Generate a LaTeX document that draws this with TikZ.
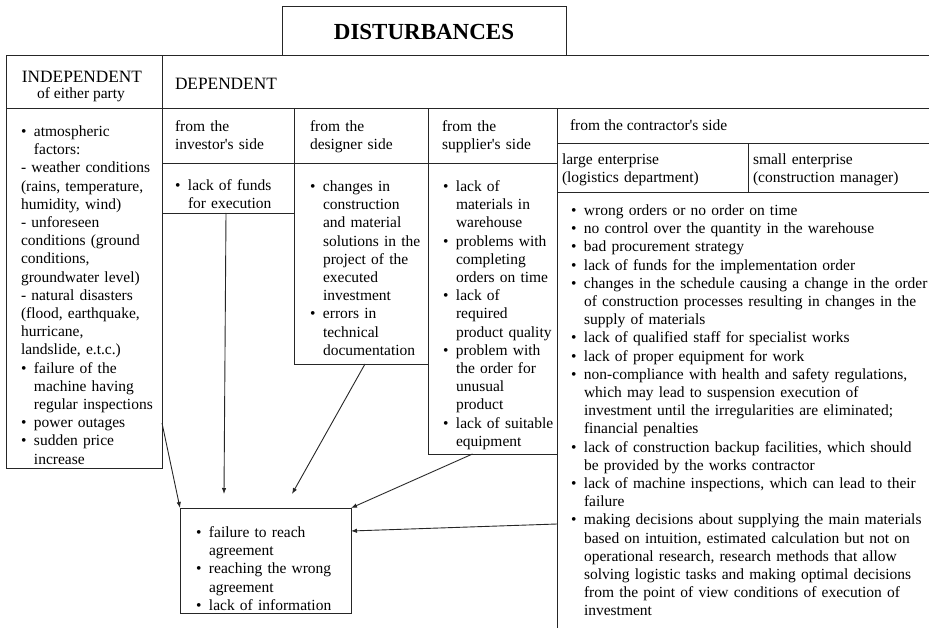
\documentclass[tikz,border=0pt]{standalone}
\usepackage{fontspec}
\setmainfont{Liberation Serif}
\usetikzlibrary{arrows.meta,calc}
\newcommand\bitem{\par\noindent\hangindent=13pt\hangafter=1\strut\makebox[13pt][l]{\textbullet}\ignorespaces}
\newcommand\pline{\par\noindent\strut\ignorespaces}
\newcommand\nl{\newline}
\newcommand\ap{\textquotesingle}
\begin{document}
\begin{tikzpicture}[x=1pt,y=-1pt,
  cell/.style={draw=black!85, line width=0.9pt, inner sep=0pt, outer sep=0pt, anchor=north west},
  body/.style={anchor=north west, inner sep=0pt, outer sep=0pt, align=left, font=\fontsize{15.5}{18.2}\selectfont},
  bfont/.style={inner sep=0pt, outer sep=0pt, font=\fontsize{15.5}{18.2}\selectfont},
  hfont/.style={inner sep=0pt, outer sep=0pt, font=\fontsize{17.3}{20}\selectfont},
  arr/.style={draw=black!85, line width=0.9pt, -{Latex[length=6pt,width=4.5pt]}}]
\clip (0,0) rectangle (929,628);
% cells
\node[cell,minimum width=284pt,minimum height=49pt] (title) at (282,6) {};
\node[cell,minimum width=156pt,minimum height=53pt] (indepHead) at (6,55) {};
\node[cell,minimum width=773pt,minimum height=53pt] (depHead) at (162,55) {};
\node[cell,minimum width=132pt,minimum height=55pt] (invHead) at (162,108) {};
\node[cell,minimum width=134pt,minimum height=55pt] (desHead) at (294,108) {};
\node[cell,minimum width=129pt,minimum height=55pt] (supHead) at (428,108) {};
\node[cell,minimum width=378pt,minimum height=35pt] (conHead) at (557,108) {};
\node[cell,minimum width=191pt,minimum height=49pt] (largeHead) at (557,143) {};
\node[cell,minimum width=187pt,minimum height=49pt] (smallHead) at (748,143) {};
\node[cell,minimum width=156pt,minimum height=360pt] (indepBody) at (6,108) {};
\node[cell,minimum width=132pt,minimum height=50pt] (invBody) at (162,163) {};
\node[cell,minimum width=134pt,minimum height=201pt] (desBody) at (294,163) {};
\node[cell,minimum width=129pt,minimum height=291pt] (supBody) at (428,163) {};
\node[cell,minimum width=378pt,minimum height=450pt] (conBody) at (557,192) {};
\node[cell,minimum width=171pt,minimum height=105pt] (target) at (180,508) {};
% header texts
\node[font=\bfseries\fontsize{23}{26}\selectfont, inner sep=0pt, anchor=base] (titleT) at (424,40) {DISTURBANCES};
\node[hfont, anchor=base] (indT1) at (82,83) {INDEPENDENT};
\node[bfont, anchor=base] (indT2) at (81,99) {of either party};
\node[hfont, anchor=base west] (depT) at (175,90) {DEPENDENT};
\node[body, text width=118pt] (invT) at (175,118.3) {\strut from the\\investor\ap s side};
\node[body, text width=118pt] (desT) at (310,118.3) {\strut from the\\designer side};
\node[body, text width=116pt] (supT) at (442,118.3) {\strut from the\\supplier\ap s side};
\node[bfont, anchor=base west] (conT) at (570,131) {from the contractor\ap s side};
\node[body, text width=185pt] (largeT) at (562,151.3) {\strut large enterprise\\(logistics department)};
\node[body, text width=175pt] (smallT) at (753,151.3) {\strut small enterprise\\(construction manager)};
% body texts
\node[body, text width=150pt] (indepL) at (21,118.3) {%
\bitem atmospheric\nl factors:
\pline - weather conditions\nl (rains, temperature,\nl humidity, wind)
\pline - unforeseen\nl conditions (ground\nl conditions,\nl groundwater level)
\pline - natural disasters\nl (flood, earthquake,\nl hurricane,\nl landslide, e.t.c.)
\bitem failure of the\nl machine having\nl regular inspections
\bitem power outages
\bitem sudden price\nl increase\par};
\node[body, text width=125pt] (invL) at (175,172.3) {%
\bitem lack of funds\nl for execution\par};
\node[body, text width=125pt] (desL) at (310,173.3) {%
\bitem changes in\nl construction\nl and material\nl solutions in the\nl project of the\nl executed\nl investment
\bitem errors in\nl technical\nl documentation\par};
\node[body, text width=125pt] (supL) at (443,173.3) {%
\bitem lack of\nl materials in\nl warehouse
\bitem problems with\nl completing\nl orders on time
\bitem lack of\nl required\nl product quality
\bitem problem with\nl the order for\nl unusual\nl product
\bitem lack of suitable\nl equipment\par};
\node[body, text width=400pt] (conL) at (571,197.3) {%
\bitem wrong orders or no order on time
\bitem no control over the quantity in the warehouse
\bitem bad procurement strategy
\bitem lack of funds for the implementation order
\bitem changes in the schedule causing a change in the order\nl of construction processes resulting in changes in the\nl supply of materials
\bitem lack of qualified staff for specialist works
\bitem lack of proper equipment for work
\bitem non-compliance with health and safety regulations,\nl which may lead to suspension execution of\nl investment until the irregularities are eliminated;\nl financial penalties
\bitem lack of construction backup facilities, which should\nl be provided by the works contractor
\bitem lack of machine inspections, which can lead to their\nl failure
\bitem making decisions about supplying the main materials\nl based on intuition, estimated calculation but not on\nl operational research, research methods that allow\nl solving logistic tasks and making optimal decisions\nl from the point of view conditions of execution of\nl investment\par};
\node[body, text width=160pt] (targetL) at (196,519.3) {%
\bitem failure to reach\nl agreement
\bitem reaching the wrong\nl agreement
\bitem lack of information\par};
% arrows
\coordinate (t2) at ($(target.north west)+(44,-14)$);
\coordinate (t3) at ($(target.north west)+(112,-14)$);
\coordinate (t5) at ($(target.north east)+(0,23)$);
\draw[arr] ($(indepBody.south east)+(0,-45)$) -- (target.north west);
\draw[arr] ($(invBody.south)+(-2,0)$) -- (t2);
\draw[arr] ($(desBody.south)+(4,0)$) -- (t3);
\draw[arr] ($(supBody.south)+(-20,0)$) -- (target.north east);
\draw[arr] ($(conBody.north west)+(0,332)$) -- (t5);
\end{tikzpicture}
\end{document}
